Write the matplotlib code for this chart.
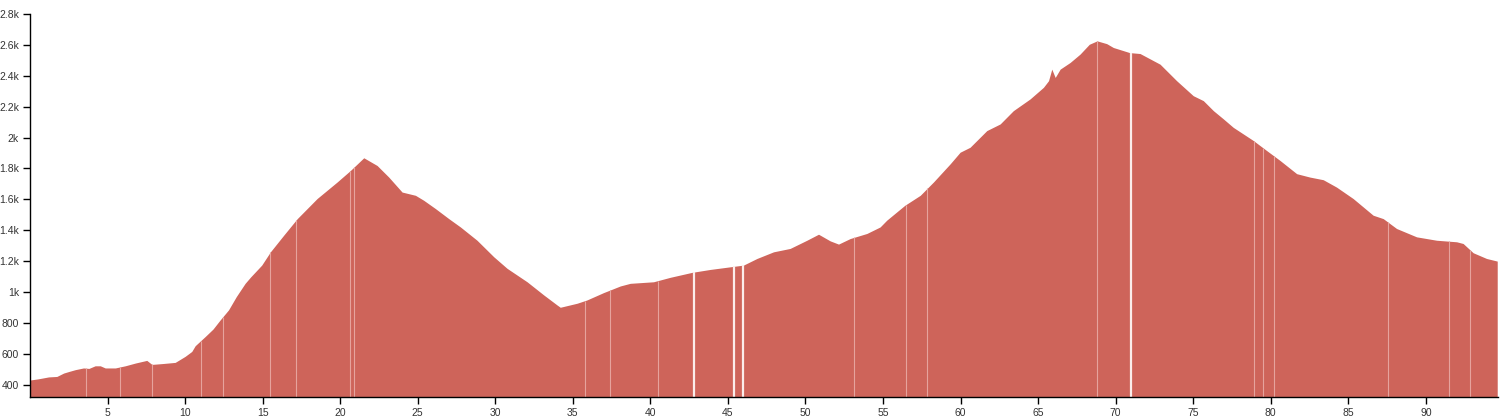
import numpy as np
import matplotlib
matplotlib.use("Agg")
import matplotlib.pyplot as plt

# ---- data: distance (km) and elevation (m) ----
km = [0.0, 0.5, 1.2, 1.73, 2.17, 2.5, 2.92, 3.45, 3.8, 4.2, 4.53, 4.85, 5.5, 6.14,
      6.8, 7.53, 7.86, 8.6, 9.36, 10.0, 10.43, 10.65, 11.3, 11.8, 12.26, 12.8,
      13.3, 13.87, 14.23, 14.94, 15.5, 16.36, 17.23, 18.51, 19.8, 20.66,
      21.52, 22.38, 23.13, 23.99, 24.85, 25.38, 26.14, 27.0, 27.75, 28.82, 29.9,
      30.76, 32.05, 33.12, 33.98, 34.19, 35.27, 35.9, 36.98, 37.41, 38.06, 38.7,
      40.2, 41.28, 42.68, 43.86, 45.15, 46.0, 46.87, 47.94, 49.01, 50.09, 50.84,
      51.59, 52.13, 52.88, 53.96, 54.81, 55.24, 56.4, 57.4, 58.25, 59.33, 59.97,
      60.61, 61.69, 62.55, 63.4, 64.48, 65.34, 65.67, 65.88, 66.1, 66.42, 67.06,
      67.7, 68.3, 68.8, 69.42, 69.85, 70.9, 71.57, 72.86, 73.93,
      75.0, 75.65, 76.3, 76.94, 77.58, 78.87, 79.73, 80.59, 81.67,
      82.52, 83.38, 84.24, 85.31, 86.6, 87.25, 88.11, 89.4, 90.69, 91.98, 92.4,
      93.05, 93.91, 94.6]
elevation = [430, 437, 450, 453, 475, 485, 497, 508, 505, 522, 522, 508, 508, 522,
             540, 557, 531, 537, 544, 583, 615, 652, 712, 760, 819, 884,
             970, 1056, 1098, 1174, 1260, 1368, 1475, 1605, 1712, 1787,
             1869, 1819, 1744, 1647, 1626, 1594, 1540, 1475, 1421, 1335, 1228,
             1153, 1066, 981, 916, 901, 927, 948, 996, 1013, 1039, 1056,
             1066, 1095, 1127, 1146, 1163, 1174, 1217, 1260, 1282, 1335, 1374,
             1331, 1310, 1346, 1379, 1421, 1465, 1561, 1626, 1712, 1830, 1905,
             1937, 2045, 2088, 2174, 2250, 2325, 2368, 2443, 2389, 2443, 2486,
             2540, 2604, 2626, 2608, 2583, 2550, 2544, 2475, 2368,
             2271, 2239, 2174, 2121, 2066, 1981, 1916, 1852, 1766,
             1744, 1727, 1679, 1605, 1497, 1475, 1411, 1357, 1335, 1325, 1314,
             1254, 1217, 1200]

# light seams visible in the profile (km)
seam_km = [3.58, 5.78, 7.88, 11.0, 12.43, 15.5, 17.18, 20.6, 20.87, 35.8, 37.37,
           40.46, 53.16, 56.48, 57.86, 68.78, 78.93, 79.5, 80.22, 87.57, 91.5, 92.83]
white_gap_km = [42.78, 45.4, 45.98, 71.0]

x_ticks = [5, 10, 15, 20, 25, 30, 35, 40, 45, 50, 55, 60, 65, 70, 75, 80, 85, 90]
y_ticks = [400, 600, 800, 1000, 1200, 1400, 1600, 1800, 2000, 2200, 2400, 2600, 2800]
y_tick_labels = ["400", "600", "800", "1k", "1.2k", "1.4k", "1.6k", "1.8k", "2k",
                 "2.2k", "2.4k", "2.6k", "2.8k"]

# ---- plot ----
plt.rcParams['font.family'] = ['Liberation Sans', 'DejaVu Sans']
fig = plt.figure(figsize=(15.07, 4.18), dpi=100)
ax = fig.add_axes([30 / 1507, 21 / 418, 1468 / 1507, 383 / 418])

fill_color = "#CE645A"
ymin = 320
ax.fill_between(km, elevation, ymin, color=fill_color, linewidth=0)

km_a = np.array(km)
el_a = np.array(elevation)
seam_top = np.interp(seam_km, km_a, el_a)
ax.vlines(seam_km, ymin, seam_top, colors="#E6A39D", linewidth=0.8)
gap_top = np.interp(white_gap_km, km_a, el_a)
ax.vlines(white_gap_km, ymin, gap_top, colors="#FBEDEB", linewidth=1.6)

ax.set_xlim(0, 94.65)
ax.set_ylim(ymin, 2800)
ax.set_xticks(x_ticks)
ax.set_xticklabels([str(t) for t in x_ticks])
ax.set_yticks(y_ticks)
ax.set_yticklabels(y_tick_labels)

for s in ["top", "right"]:
    ax.spines[s].set_visible(False)
for s in ["left", "bottom"]:
    ax.spines[s].set_color("black")
    ax.spines[s].set_linewidth(1.0)
ax.tick_params(axis="both", direction="out", length=5, width=1, color="black",
               labelsize=7.5, labelcolor="#333333", pad=3)

fig.savefig("out.png", dpi=100)
